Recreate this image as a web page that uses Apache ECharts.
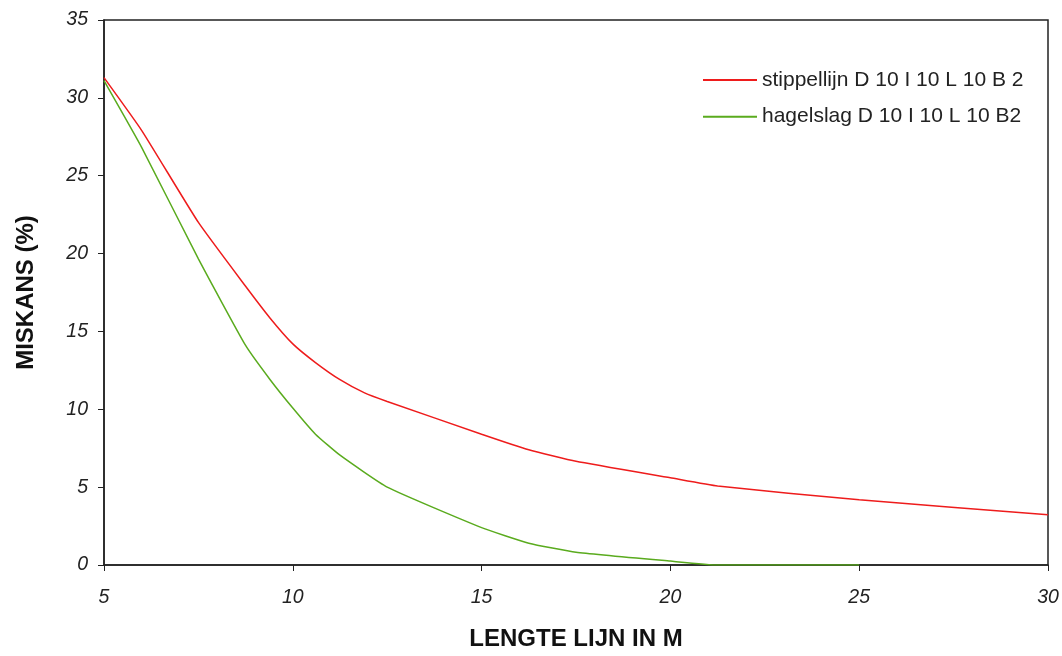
<!DOCTYPE html>
<html>
<head>
<meta charset="utf-8">
<script src="https://cdn.jsdelivr.net/npm/echarts@6/dist/echarts.min.js"></script>
<style>html,body{margin:0;padding:0;background:#fff}#c{width:1062px;height:656px}</style>
</head>
<body>
<div id="c"></div>
<script>
const redName = 'stippellijn D 10 I 10 L 10 B 2';
const greenName = 'hagelslag D 10 I 10 L 10 B2';
const redX = [5, 6, 7.5, 8.75, 9.4, 10, 10.6, 11.25, 11.9, 12.5, 15, 16.25, 17.5, 20, 21.25, 25, 30];
const redY = [31.3, 27.9, 22.0, 17.9, 15.85, 14.2, 13.0, 11.9, 11.05, 10.5, 8.4, 7.4, 6.66, 5.6, 5.07, 4.19, 3.23];
const greenX = [5, 6, 7.5, 8.75, 9.4, 10, 10.6, 11.25, 12.5, 15, 16.25, 17.5, 20, 21.25, 25];
const greenY = [31.1, 26.8, 19.66, 14.1, 11.9, 10.08, 8.4, 7.05, 5.0, 2.4, 1.4, 0.82, 0.25, 0, 0];
const xTicks = [5, 10, 15, 20, 25, 30];
const yTicks = [0, 5, 10, 15, 20, 25, 30, 35];

const pair = (xs, ys) => xs.map((x, i) => [x, ys[i]]);
const el = document.getElementById('c');
const chart = echarts.init(el);
const font = 'Liberation Sans, Arial, sans-serif';
const axisTxt = {color: '#222', fontSize: 19.5, fontStyle: 'italic', fontFamily: font};
chart.setOption({
  animation: false,
  backgroundColor: '#fff',
  grid: {left: 104, right: 14, top: 20, bottom: 84, show: true, borderColor: '#222', borderWidth: 1.5, backgroundColor: 'transparent'},
  legend: {
    left: 703, top: 69.5, padding: 0, orient: 'vertical', itemGap: 15.7, itemWidth: 54, itemHeight: 21, itemTextGap: 5,
    icon: 'path://M0,10L54,10L54,12L0,12Z',
    textStyle: {fontSize: 21, color: '#222', fontFamily: font, padding: [0,0,0,0]},
    data: [redName, greenName]
  },
  xAxis: {
    type: 'value', min: xTicks[0], max: xTicks[xTicks.length-1], interval: 5,
    name: 'LENGTE LIJN IN M', nameLocation: 'middle', nameGap: 62,
    nameTextStyle: {fontSize: 24, fontWeight: 'bold', color: '#111', fontFamily: font},
    axisLine: {lineStyle: {color: '#222', width: 1.5}},
    axisTick: {show: true, length: 6, inside: false, lineStyle: {color: '#222'}},
    axisLabel: Object.assign({margin: 23}, axisTxt),
    splitLine: {show: false}
  },
  yAxis: {
    type: 'value', min: yTicks[0], max: yTicks[yTicks.length-1], interval: 5,
    name: 'MISKANS (%)', nameLocation: 'middle', nameGap: 66, nameRotate: 90,
    nameTextStyle: {fontSize: 24, fontWeight: 'bold', color: '#111', fontFamily: font},
    axisLine: {show: true, lineStyle: {color: '#222', width: 1.5}},
    axisTick: {show: true, length: 6, inside: false, lineStyle: {color: '#222'}},
    axisLabel: Object.assign({margin: 16}, axisTxt),
    splitLine: {show: false}
  },
  series: [
    {name: redName, type: 'line', data: pair(redX, redY), showSymbol: false, smooth: 0.15,
     lineStyle: {color: '#ee1c1c', width: 1.5}, itemStyle: {color: '#ee1c1c'}},
    {name: greenName, type: 'line', data: pair(greenX, greenY), showSymbol: false, smooth: 0.15,
     lineStyle: {color: '#5aab1e', width: 1.5}, itemStyle: {color: '#5aab1e'}}
  ]
});
</script>
</body>
</html>
